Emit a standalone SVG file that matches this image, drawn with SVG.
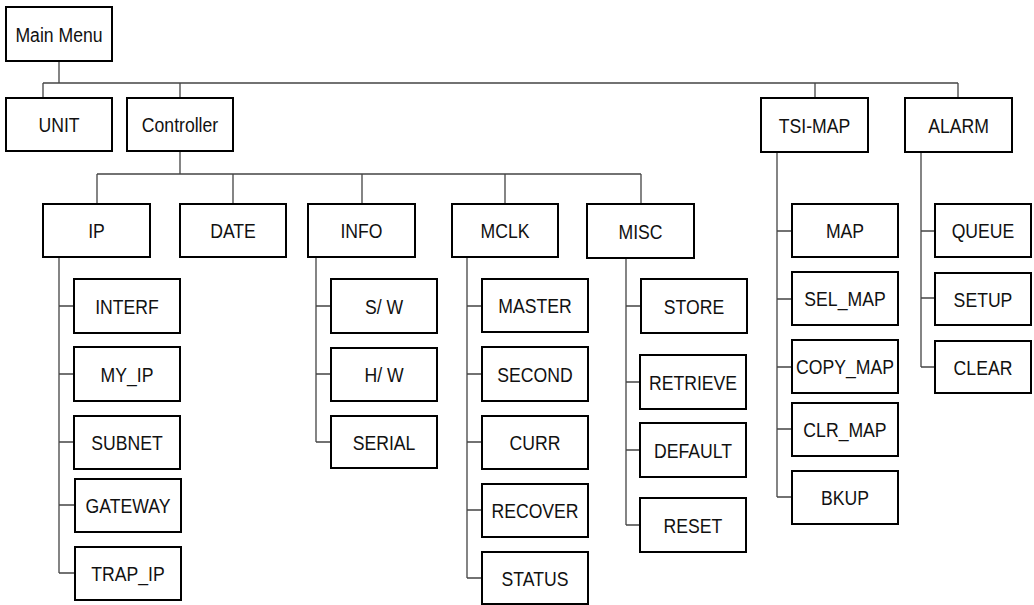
<svg xmlns="http://www.w3.org/2000/svg" width="1034" height="605" viewBox="0 0 1034 605">
<style>
.n rect{fill:#fff;stroke:#000;stroke-width:2}
.n text{font-family:"Liberation Sans",Arial,sans-serif;font-size:21px;text-anchor:middle;fill:#111}
#edges path{fill:none;stroke:#444;stroke-width:1.3}
</style>
<rect width="1034" height="605" fill="#fff"/>
<g id="edges">
<path d="M59 61V83M43 83H958M43 83V98M180 83V98M815 83V98M958 83V98"/>
<path d="M180 151V174M97 174H641M97 174V204M233 174V204M362 174V204M505 174V204M641 174V204"/>
<path d="M59 257V573M59 306H74M59 374H74M59 442H74M59 505H75M59 573H75"/>
<path d="M316 257V442M316 306H331M316 374H331M316 442H331"/>
<path d="M467 257V578M467 306H482M467 374H482M467 442H482M467 510H482M467 578H482"/>
<path d="M626 258V525M626 306H641M626 382H640M626 450H640M626 525H640"/>
<path d="M777 152V497M777 231H792M777 299H792M777 367H792M777 429H792M777 497H792"/>
<path d="M921 152V367M921 231H935M921 298H935M921 367H935"/>
</g>
<g id="n-main" class="n"><rect x="6" y="7" width="106" height="54"/><text transform="matrix(0.84 0 0 1 59 41.5)">Main Menu</text></g>
<g id="n-unit" class="n"><rect x="6" y="98" width="106" height="53"/><text transform="matrix(0.84 0 0 1 59 132)">UNIT</text></g>
<g id="n-controller" class="n"><rect x="127" y="98" width="106" height="53"/><text transform="matrix(0.84 0 0 1 180 132)">Controller</text></g>
<g id="n-tsimap" class="n"><rect x="761" y="98" width="107" height="54"/><text transform="matrix(0.84 0 0 1 814.5 132.5)">TSI-MAP</text></g>
<g id="n-alarm" class="n"><rect x="905" y="98" width="107" height="54"/><text transform="matrix(0.84 0 0 1 958.5 132.5)">ALARM</text></g>
<g id="n-ip" class="n"><rect x="43" y="204" width="107" height="53"/><text transform="matrix(0.84 0 0 1 96.5 238)">IP</text></g>
<g id="n-date" class="n"><rect x="180" y="204" width="106" height="53"/><text transform="matrix(0.84 0 0 1 233 238)">DATE</text></g>
<g id="n-info" class="n"><rect x="308" y="204" width="107" height="53"/><text transform="matrix(0.84 0 0 1 361.5 238)">INFO</text></g>
<g id="n-mclk" class="n"><rect x="452" y="204" width="106" height="53"/><text transform="matrix(0.84 0 0 1 505 238)">MCLK</text></g>
<g id="n-misc" class="n"><rect x="587" y="204" width="107" height="54"/><text transform="matrix(0.84 0 0 1 640.5 238.5)">MISC</text></g>
<g id="n-interf" class="n"><rect x="74" y="279" width="106" height="54"/><text transform="matrix(0.84 0 0 1 127 313.5)">INTERF</text></g>
<g id="n-myip" class="n"><rect x="74" y="347" width="106" height="54"/><text transform="matrix(0.84 0 0 1 127 381.5)">MY_IP</text></g>
<g id="n-subnet" class="n"><rect x="74" y="416" width="106" height="53"/><text transform="matrix(0.84 0 0 1 127 450)">SUBNET</text></g>
<g id="n-gateway" class="n"><rect x="75" y="479" width="106" height="53"/><text transform="matrix(0.84 0 0 1 128 513)">GATEWAY</text></g>
<g id="n-trapip" class="n"><rect x="75" y="547" width="106" height="53"/><text transform="matrix(0.84 0 0 1 128 581)">TRAP_IP</text></g>
<g id="n-sw" class="n"><rect x="331" y="279" width="106" height="54"/><text transform="matrix(0.84 0 0 1 384 313.5)">S/ W</text></g>
<g id="n-hw" class="n"><rect x="331" y="348" width="106" height="53"/><text transform="matrix(0.84 0 0 1 384 382)">H/ W</text></g>
<g id="n-serial" class="n"><rect x="331" y="416" width="106" height="52"/><text transform="matrix(0.84 0 0 1 384 449.5)">SERIAL</text></g>
<g id="n-master" class="n"><rect x="482" y="279" width="106" height="53"/><text transform="matrix(0.84 0 0 1 535 313)">MASTER</text></g>
<g id="n-second" class="n"><rect x="482" y="347" width="106" height="54"/><text transform="matrix(0.84 0 0 1 535 381.5)">SECOND</text></g>
<g id="n-curr" class="n"><rect x="482" y="416" width="106" height="53"/><text transform="matrix(0.84 0 0 1 535 450)">CURR</text></g>
<g id="n-recover" class="n"><rect x="482" y="484" width="106" height="53"/><text transform="matrix(0.84 0 0 1 535 518)">RECOVER</text></g>
<g id="n-status" class="n"><rect x="482" y="552" width="106" height="52"/><text transform="matrix(0.84 0 0 1 535 585.5)">STATUS</text></g>
<g id="n-store" class="n"><rect x="641" y="279" width="106" height="54"/><text transform="matrix(0.84 0 0 1 694 313.5)">STORE</text></g>
<g id="n-retrieve" class="n"><rect x="640" y="355" width="106" height="54"/><text transform="matrix(0.84 0 0 1 693 389.5)">RETRIEVE</text></g>
<g id="n-default" class="n"><rect x="640" y="423" width="106" height="54"/><text transform="matrix(0.84 0 0 1 693 457.5)">DEFAULT</text></g>
<g id="n-reset" class="n"><rect x="640" y="498" width="106" height="54"/><text transform="matrix(0.84 0 0 1 693 532.5)">RESET</text></g>
<g id="n-map" class="n"><rect x="792" y="204" width="106" height="53"/><text transform="matrix(0.84 0 0 1 845 238)">MAP</text></g>
<g id="n-selmap" class="n"><rect x="792" y="272" width="106" height="53"/><text transform="matrix(0.84 0 0 1 845 306)">SEL_MAP</text></g>
<g id="n-copymap" class="n"><rect x="792" y="340" width="106" height="53"/><text transform="matrix(0.84 0 0 1 845 374)">COPY_MAP</text></g>
<g id="n-clrmap" class="n"><rect x="792" y="403" width="106" height="53"/><text transform="matrix(0.84 0 0 1 845 437)">CLR_MAP</text></g>
<g id="n-bkup" class="n"><rect x="792" y="471" width="106" height="53"/><text transform="matrix(0.84 0 0 1 845 505)">BKUP</text></g>
<g id="n-queue" class="n"><rect x="935" y="204" width="96" height="53"/><text transform="matrix(0.84 0 0 1 983 238)">QUEUE</text></g>
<g id="n-setup" class="n"><rect x="935" y="273" width="96" height="52"/><text transform="matrix(0.84 0 0 1 983 306.5)">SETUP</text></g>
<g id="n-clear" class="n"><rect x="935" y="341" width="96" height="52"/><text transform="matrix(0.84 0 0 1 983 374.5)">CLEAR</text></g>
</svg>
